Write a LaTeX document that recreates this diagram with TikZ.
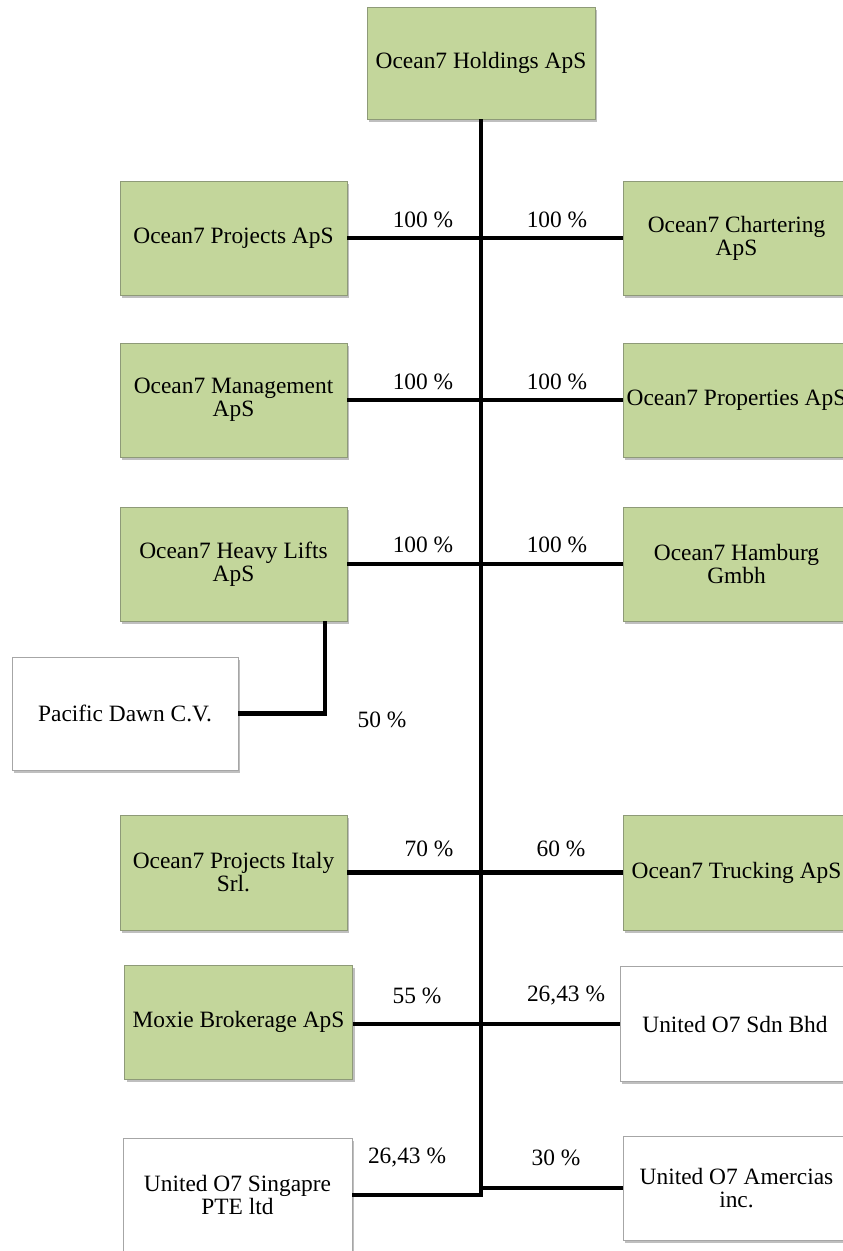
\documentclass[tikz,border=0pt]{standalone}
\usepackage{fontspec}
\setmainfont{Liberation Serif}
\usetikzlibrary{shadows}
\definecolor{olivefill}{HTML}{C3D69B}
\definecolor{gborder}{HTML}{8E9A78}
\definecolor{wborder}{HTML}{A6A6A6}
\tikzset{
  basebox/.style={rectangle, inner sep=0pt, align=center,
    font=\fontsize{23.4}{23}\selectfont, line width=0.8pt,
    drop shadow={shadow xshift=2pt, shadow yshift=-2.5pt, fill=black, opacity=0.25}},
  gbox/.style={basebox, fill=olivefill, draw=gborder},
  wbox/.style={basebox, fill=white, draw=wborder},
  pct/.style={font=\fontsize{23.4}{23}\selectfont, inner sep=0pt},
  conn/.style={line width=4.5pt, black}
}
\begin{document}
\begin{tikzpicture}[x=1pt,y=-1pt]
\useasboundingbox (0,0) rectangle (843,1251);
\clip (0,0) rectangle (843,1251);
\fill[white] (0,0) rectangle (843,1251);

% boxes
\node[gbox, minimum width=228, minimum height=112] (hold) at (481,63) {Ocean7 Holdings ApS};

\node[gbox, minimum width=227, minimum height=114] (proj) at (233.5,238) {Ocean7 Projects ApS};
\node[gbox, minimum width=227, minimum height=114] (mgmt) at (233.5,400) {Ocean7 Management\\ApS};
\node[gbox, minimum width=227, minimum height=114] (heavy) at (233.5,564) {Ocean7 Heavy Lifts\\ApS};
\node[wbox, minimum width=226, minimum height=113] (pac) at (125,713.5) {Pacific Dawn C.V.};
\node[gbox, minimum width=227, minimum height=115] (italy) at (233.5,872.5) {Ocean7 Projects Italy\\Srl.};
\node[gbox, minimum width=228, minimum height=114] (moxie) at (238.5,1022) {Moxie Brokerage ApS};
\node[wbox, minimum width=229, minimum height=114] (sing) at (237.5,1195) {United O7 Singapre\\PTE ltd};

\node[gbox, minimum width=227, minimum height=114] (chart) at (736.5,238) {Ocean7 Chartering\\ApS};
\node[gbox, minimum width=227, minimum height=114] (prop) at (736.5,400) {Ocean7 Properties ApS};
\node[gbox, minimum width=227, minimum height=114] (hamb) at (736.5,564) {Ocean7 Hamburg\\Gmbh};
\node[gbox, minimum width=227, minimum height=115] (truck) at (736.5,872.5) {Ocean7 Trucking ApS};
\node[wbox, minimum width=230, minimum height=115] (sdn) at (735,1024) {United O7 Sdn Bhd};
\node[wbox, minimum width=227, minimum height=104] (amer) at (736.5,1188) {United O7 Amercias\\inc.};

% connectors
\draw[conn] (hold.south) |- (sing.east);
\draw[conn] (proj.east) -- (chart.west);
\draw[conn] (mgmt.east) -- (prop.west);
\draw[conn] (heavy.east) -- (hamb.west);
\draw[conn] ([xshift=91.5pt]heavy.south) |- (pac.east);
\draw[conn] (italy.east) -- (truck.west);
\draw[conn] (moxie.east |- sdn.west) -- (sdn.west);
\draw[conn] (amer.west) -- (amer.west -| hold.south);

% percentages
\node[pct] (p1l) at (423,220) {100 \%};
\node[pct] (p1r) at (557,220) {100 \%};
\node[pct] (p2l) at (423,382) {100 \%};
\node[pct] (p2r) at (557,382) {100 \%};
\node[pct] (p3l) at (423,545) {100 \%};
\node[pct] (p3r) at (557,545) {100 \%};
\node[pct] (p50) at (382,720) {50 \%};
\node[pct] (p4l) at (429,849) {70 \%};
\node[pct] (p4r) at (561,849) {60 \%};
\node[pct] (p5l) at (417,996) {55 \%};
\node[pct] (p5r) at (566,996) {26,43 \%};
\node[pct] (p6l) at (407,1158) {26,43 \%};
\node[pct] (p6r) at (556,1158) {30 \%};
\end{tikzpicture}
\end{document}
